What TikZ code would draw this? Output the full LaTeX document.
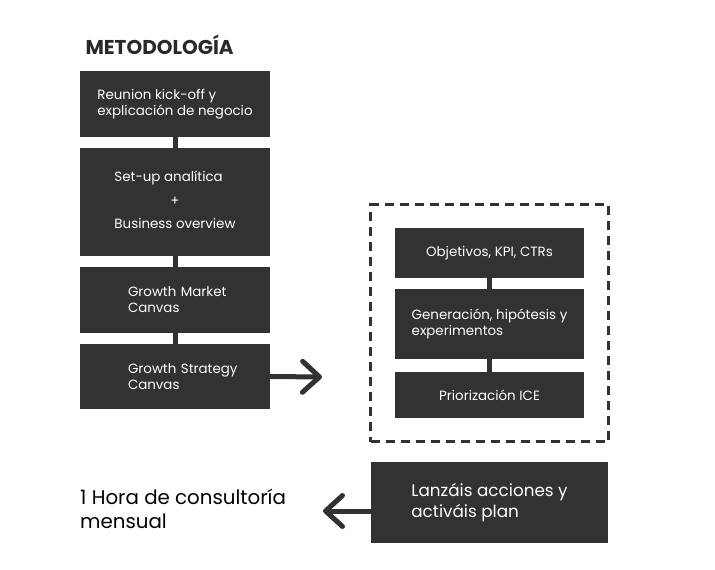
\documentclass[tikz,border=0pt]{standalone}
\usepackage{fontspec}
\setmainfont{Poppins}
\usetikzlibrary{arrows.meta}
\definecolor{boxgray}{HTML}{323232}
\definecolor{inkgray}{HTML}{2A2A2A}
\tikzset{
  box/.style={fill=boxgray, text=white, inner sep=0pt, align=left,
    font=\fontsize{13.4}{16}\selectfont},
  link/.style={draw=boxgray, line width=5pt},
  arrowline/.style={draw=boxgray, line width=5pt, line cap=round,
    -{Straight Barb[length=17pt,width=31pt,round]}},
}
\begin{document}
\begin{tikzpicture}[x=1pt,y=-1pt]
\useasboundingbox (0,0) rectangle (715,570);
\fill[white] (0,0) rectangle (715,570);

\node[anchor=west, text=inkgray, font=\fontsize{20}{24}\selectfont\bfseries] (title) at (82,45) {METODOLOGÍA};

\node[box, minimum width=190pt, minimum height=66pt] (b1) at (175,104) {Reunion kick-off y\\explicación de negocio};
\node[box, minimum width=190pt, minimum height=108pt] (b2) at (175,202)
  {\begin{tabular}{@{}l@{}}Set-up analítica\\[7.5pt]\multicolumn{1}{@{}c@{}}{+}\\[7.5pt]Business overview\end{tabular}};
\node[box, minimum width=190pt, minimum height=66pt, text width=190pt] (b3) at (175,300) {\hspace*{48pt}Growth Market\\\hspace*{48pt}Canvas\\[2pt]};
\node[box, minimum width=190pt, minimum height=65pt, text width=190pt] (b4) at (175,376.5) {\hspace*{48pt}Growth Strategy\\\hspace*{48pt}Canvas};

\draw[link] (b1.south) -- (b2.north);
\draw[link] (b2.south) -- (b3.north);
\draw[link] (b3.south) -- (b4.north);

\node[draw=boxgray, line width=2.2pt, dash pattern=on 9pt off 6pt, minimum width=238pt, minimum height=237pt, inner sep=0pt] (frame) at (489.5,323) {};

\node[box, minimum width=189pt, minimum height=50pt] (iA) at (489.5,253) {Objetivos, KPI, CTRs};
\node[box, minimum width=189pt, minimum height=70pt] (iB) at (489.5,324) {Generación, hipótesis y\\experimentos};
\node[box, minimum width=189pt, minimum height=46pt] (iC) at (489.5,395) {Priorización ICE};

\draw[link] (iA.south) -- (iB.north);
\draw[link] (iB.south) -- (iC.north);

\coordinate (t1) at (322,377);
\draw[arrowline] (b4.east) -- (t1);

\node[box, minimum width=237pt, minimum height=81pt, font=\fontsize{16.8}{21}\selectfont] (bb) at (489.5,502.5) {Lanzáis acciones y\\activáis plan};

\node[anchor=west, align=left, inner sep=0pt, text=black, font=\fontsize{19.8}{24}\selectfont] (cons) at (80,509) {1 Hora de consultoría\\mensual};

\coordinate (t2) at (323,511);
\draw[arrowline] ([yshift=-8.5pt]bb.west) -- (t2);
\end{tikzpicture}
\end{document}
